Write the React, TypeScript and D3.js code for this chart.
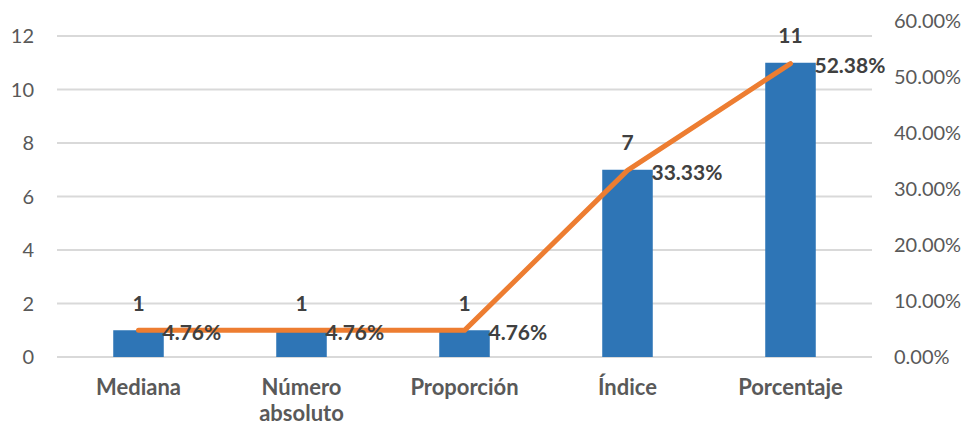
import * as React from 'react';
import * as d3 from 'd3';

const categories: string[] = ['Mediana', 'Número absoluto', 'Proporción', 'Índice', 'Porcentaje'];
const counts: number[] = [1, 1, 1, 7, 11];
const percents: number[] = [0.0476, 0.0476, 0.0476, 0.3333, 0.5238];
const leftTicks: number[] = [0, 2, 4, 6, 8, 10, 12];
const rightTicks: number[] = [0, 0.1, 0.2, 0.3, 0.4, 0.5, 0.6];

const W = 969;
const H = 427;
const FONT = 'Lato, "Open Sans", sans-serif';

export default function App() {
  const x = d3.scaleBand<string>().domain(categories).range([57, 872]).padding(0);
  const yL = d3.scaleLinear().domain([0, 12]).range([357, 36]);
  const yR = d3.scaleLinear().domain([0, 0.6]).range([357, 21]);
  const barW = x.bandwidth() * 0.31;
  const cx = (c: string) => (x(c) as number) + x.bandwidth() / 2;

  const line = d3
    .line<number>()
    .x((_, i) => cx(categories[i]))
    .y((d) => yR(d));

  const pct = d3.format('.2%');

  return (
    <svg width={W} height={H} style={{ position: 'absolute', left: 0, top: 0, background: '#fff' }}>
      {/* gridlines */}
      {leftTicks.map((t) => (
        <line key={'g' + t} x1={57} x2={872} y1={yL(t)} y2={yL(t)} stroke="#d9d9d9" strokeWidth={1.8} />
      ))}
      {/* left axis labels */}
      {leftTicks.map((t) => (
        <text key={'l' + t} x={34} y={yL(t)} dy="0.35em" textAnchor="end" fontFamily={FONT} fontSize={20} fill="#595959">
          {t}
        </text>
      ))}
      {/* right axis labels */}
      {rightTicks.map((t) => (
        <text key={'r' + t} x={894} y={yR(t)} dy="0.35em" textAnchor="start" fontFamily={FONT} fontSize={20} fill="#595959">
          {pct(t)}
        </text>
      ))}
      {/* bars */}
      {categories.map((c, i) => (
        <rect key={'b' + c} x={cx(c) - barW / 2} y={yL(counts[i])} width={barW} height={yL(0) - yL(counts[i])} fill="#2e75b6" />
      ))}
      {/* count labels */}
      {categories.map((c, i) => (
        <text key={'c' + c} x={cx(c)} y={yL(counts[i]) - 27} dy="0.35em" textAnchor="middle" fontFamily={FONT} fontWeight="bold" fontSize={21} fill="#404040">
          {counts[i]}
        </text>
      ))}
      {/* line */}
      <path d={line(percents) as string} fill="none" stroke="#ed7d31" strokeWidth={5} strokeLinecap="round" strokeLinejoin="round" />
      {/* percent labels */}
      {categories.map((c, i) => (
        <text key={'p' + c} x={cx(c) + 24} y={yR(percents[i]) + 2} dy="0.35em" textAnchor="start" fontFamily={FONT} fontWeight="bold" fontSize={21} fill="#404040">
          {pct(percents[i])}
        </text>
      ))}
      {/* category labels */}
      {categories.map((c) => {
        const parts = c === 'Número absoluto' ? ['Número', 'absoluto'] : [c];
        return (
          <text key={'x' + c} x={cx(c)} y={387} textAnchor="middle" fontFamily={FONT} fontWeight="bold" fontSize={22} fill="#595959">
            {parts.map((p, j) => (
              <tspan key={j} x={cx(c)} dy={j === 0 ? '0.35em' : 26}>
                {p}
              </tspan>
            ))}
          </text>
        );
      })}
    </svg>
  );
}
